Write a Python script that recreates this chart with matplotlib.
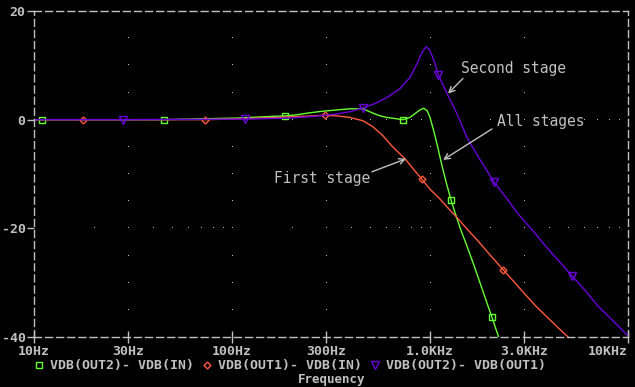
import matplotlib.pyplot as plt
import numpy as np
from matplotlib.lines import Line2D

dpi = 100
#%%
# Data

freq_all = [10, 11, 45.4, 59, 107, 138, 186, 213, 240, 278, 340, 394, 459, 515, 560, 607,
            731, 790, 839, 890, 930, 970, 1000, 1047, 1098, 1150, 1204, 1275, 1337, 1418,
            1520, 1630, 1788, 1963, 2057, 2231]
db_all = [0, 0, 0, 0.1, 0.3, 0.5, 0.7, 0.9, 1.2, 1.5, 1.8, 2.0, 2.0, 1.2, 0.7, 0.4,
          0.0, 0.4, 1.1, 1.8, 2.1, 1.6, 0.4, -2.2, -5.3, -8.5, -11.4, -14.7, -17.1, -19.9,
          -22.8, -25.8, -30.0, -34.3, -36.4, -40.2]
mark_all = [11, 45.4, 186, 731, 1275, 2057]

freq_first = [10, 17.7, 73.4, 98, 138, 170, 220, 256, 295, 339, 394, 459, 515, 580, 640,
              705, 748, 820, 912, 1000, 1123, 1250, 1368, 1545, 1745, 2000, 2340, 2915,
              3400, 3945, 4500, 4980]
db_first = [0, 0, 0, 0.1, 0.3, 0.4, 0.6, 0.7, 0.8, 0.7, 0.4, -0.2, -1.3, -3.0, -4.8,
            -6.3, -7.2, -9.0, -11.0, -12.8, -14.6, -16.5, -18.0, -20.2, -22.3, -24.8, -27.6, -31.5,
            -34.2, -36.5, -38.5, -40]
mark_first = [17.7, 73.4, 295, 912, 2340]

freq_second = [10, 28.2, 116, 196, 262, 330, 400, 459, 530, 607, 705, 793, 860, 912, 955,
               990, 1024, 1060, 1100, 1160, 1220, 1368, 1538, 1750, 2100, 2500, 2780, 3300,
               3945, 4500, 5200, 6000, 7050, 8500, 10000]
db_second = [0, 0, 0.1, 0.3, 0.6, 1.0, 1.5, 2.2, 3.0, 4.1, 5.7, 7.8, 10.3, 12.4, 13.4,
             13.0, 11.8, 10.3, 8.3, 6.5, 4.8, 1.1, -3.3, -6.8, -11.4, -15.0, -17.3, -20.4,
             -23.8, -26.1, -28.7, -31.2, -34.3, -37.2, -39.8]
mark_second = [28.2, 116, 459, 1100, 2100, 5200]

xticks = [10, 30, 100, 300, 1000, 3000, 10000]
xlabels = ["10Hz", "30Hz", "100Hz", "300Hz", "1.0KHz", "3.0KHz", "10KHz"]
yticks = [-40, -20, 0, 20]
legend_names = ["VDB(OUT2)- VDB(IN)", "VDB(OUT1)- VDB(IN)", "VDB(OUT2)- VDB(OUT1)"]

green = "#66ff33"
red = "#ff5a3c"
purple = "#6a00dc"
grey = "#c0c0c0"
mono = "DejaVu Sans Mono"

#%%
fig = plt.figure(figsize=(6.35, 3.87), dpi=dpi, facecolor="black")
ax = fig.add_axes([34 / 635, 50 / 387, 594 / 635, 326 / 387], facecolor="black")
ax.set_xscale("log")
ax.set_xlim(10, 10000)
ax.set_ylim(-40, 20)

# dotted grid, PSpice style
for gx in xticks[1:-1]:
    ys = np.arange(-35, 20, 5)
    ax.plot([gx] * len(ys), ys, ls="none", marker=",", color=grey)
for gy in [0, -20]:
    xs = [k * 10 ** n for n in range(1, 4) for k in range(1, 10)][1:]
    ax.plot(xs, [gy] * len(xs), ls="none", marker=",", color=grey)

series = [(freq_all, db_all, mark_all, green, "s", 4.5),
          (freq_first, db_first, mark_first, red, "D", 3.5),
          (freq_second, db_second, mark_second, purple, "v", 6)]
for f, d, m, c, mk, ms in series:
    idx = [f.index(v) for v in m]
    ax.plot(f, d, color=c, lw=1.0, marker=mk, ms=ms, mfc="none", mec=c, mew=1.0,
            markevery=idx)

# labels with arrows
arrow = dict(arrowstyle="->", color=grey, lw=1.0, shrinkA=0, shrinkB=0)
ax.annotate("", xy=(1233, 4.8), xytext=(1468, 7.6), arrowprops=arrow)
ax.text(1435, 9.4, "Second stage", color=grey, family=mono, fontsize=10.5,
        ha="left", va="center")
ax.annotate("", xy=(1164, -7.4), xytext=(2057, -1.7), arrowprops=arrow)
ax.text(2177, -0.4, "All stages", color=grey, family=mono, fontsize=10.5,
        ha="left", va="center")
ax.annotate("", xy=(757, -7.2), xytext=(509, -9.6), arrowprops=arrow)
ax.text(498, -10.9, "First stage", color=grey, family=mono, fontsize=10.5,
        ha="right", va="center")

# axes frame
for s in ax.spines.values():
    s.set_linestyle((0, (5, 3)))
    s.set_color(grey)
    s.set_linewidth(1.0)

ax.set_xticks(xticks)
ax.set_xticklabels(xlabels)
ax.xaxis.set_minor_locator(plt.NullLocator())
ax.set_yticks(yticks)
ax.set_yticklabels([str(v) for v in yticks])
ax.tick_params(axis="x", direction="inout", length=8, width=1, color=grey, pad=2,
               labelcolor=grey, labelsize=9.5)
ax.tick_params(axis="y", direction="out", length=5, width=1, color=grey, pad=1,
               labelcolor=grey, labelsize=9.5)
for lab in ax.get_xticklabels() + ax.get_yticklabels():
    lab.set_family(mono)
    lab.set_fontweight("bold")
ax.get_xticklabels()[-1].set_horizontalalignment("right")

# legend row under the plot
leg_x = [39, 207, 375]
leg_y = (387 - 365) / 387
for (f, d, m, c, mk, ms), x0, name in zip(series, leg_x, legend_names):
    fig.add_artist(Line2D([x0 / 635], [leg_y], marker=mk, ms=ms, mfc="none",
                          mec=c, mew=1.0, ls="none", transform=fig.transFigure))
    fig.text((x0 + 11) / 635, leg_y, name, color=grey, family=mono,
             fontweight="bold", fontsize=9.5, ha="left", va="center")

fig.text(332 / 635, 0.5 / 387, "Frequency", color=grey, family=mono,
         fontweight="bold", fontsize=9, ha="center", va="bottom")

plt.savefig("out.png", dpi=dpi, facecolor="black")
